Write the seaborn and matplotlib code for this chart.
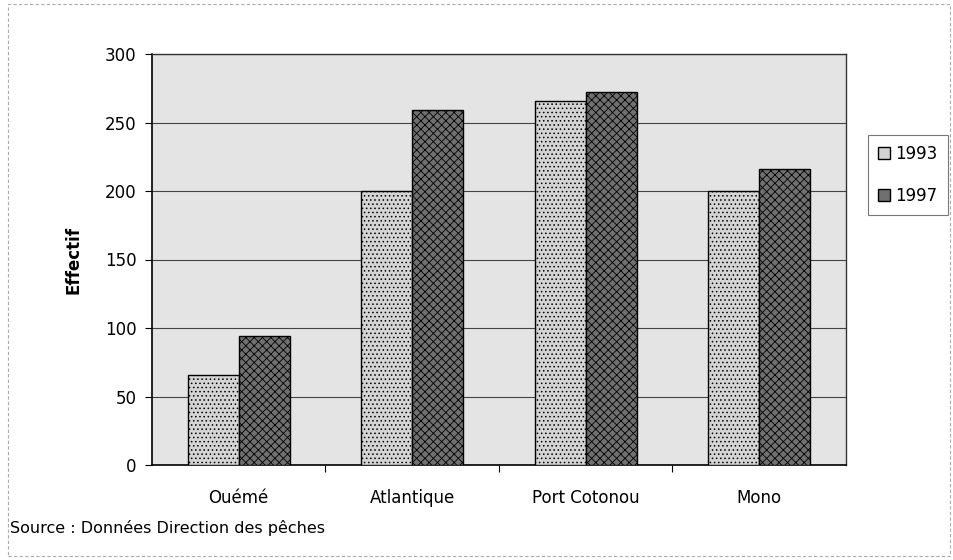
import matplotlib
matplotlib.use("Agg")
import matplotlib.pyplot as plt
import seaborn as sns
import pandas as pd
from matplotlib.patches import Rectangle

categories = ["Ouémé", "Atlantique", "Port Cotonou", "Mono"]
years = ["1993", "1997"]
values_1993 = [66, 200, 266, 200]
values_1997 = [94, 259, 272, 216]
y_ticks = [0, 50, 100, 150, 200, 250, 300]

df = pd.DataFrame({
    "Region": categories * 2,
    "Year": [years[0]] * 4 + [years[1]] * 4,
    "Effectif": values_1993 + values_1997,
})

sns.set_theme(style="white")
plt.rcParams["font.family"] = ["DejaVu Sans"]
plt.rcParams["hatch.linewidth"] = 0.6
plt.rcParams["text.color"] = "black"
plt.rcParams["xtick.color"] = "black"
plt.rcParams["ytick.color"] = "black"
plt.rcParams["axes.labelcolor"] = "black"

fig = plt.figure(figsize=(9.54, 5.6), dpi=100)
ax = fig.add_axes([152/954, 95/560, 694/954, 411/560])
ax.set_facecolor("#e4e4e4")

palette = {"1993": "#d4d4d4", "1997": "#707070"}
sns.barplot(data=df, x="Region", y="Effectif", hue="Year", palette=palette,
            order=categories, hue_order=years, width=0.59, ax=ax,
            edgecolor="black", linewidth=1.0, saturation=1, legend=True, zorder=3)

hatches = {"1993": "....", "1997": "xxxx"}
for cont, yr in zip(ax.containers, years):
    for b in cont:
        b.set_hatch(hatches[yr])
        b.set_zorder(3)

ax.set_ylim(0, 300)
ax.set_xlim(-0.5, 3.5)
ax.set_yticks(y_ticks)
ax.set_yticklabels([str(t) for t in y_ticks], fontsize=12)
ax.tick_params(axis="y", length=5, width=0.8, color="black", direction="out", pad=6, left=True)
ax.tick_params(axis="x", length=0, labelsize=12, pad=17)
ax.set_xticks(range(4))
ax.set_xticklabels(categories)
ax.set_xticks([0.5, 1.5, 2.5], minor=True)
ax.tick_params(axis="x", which="minor", length=5, width=0.8, color="black", bottom=True)
ax.yaxis.grid(True, color="#444444", linewidth=0.8, zorder=1)
ax.set_axisbelow(True)
for s in ["left", "bottom"]:
    ax.spines[s].set_color("black")
    ax.spines[s].set_linewidth(1.2)
for s in ["top", "right"]:
    ax.spines[s].set_color("#333333")
    ax.spines[s].set_linewidth(1.0)
ax.set_xlabel("")
ax.set_ylabel("Effectif", fontsize=12, fontweight="bold", labelpad=16)

leg = ax.legend(loc="upper left", bbox_to_anchor=(868/954, 1 - 135/560),
                bbox_transform=fig.transFigure, frameon=True, fontsize=12,
                handlelength=0.7, handleheight=0.7, handletextpad=0.35,
                borderpad=0.6, labelspacing=1.45, fancybox=False, borderaxespad=0)
leg.get_frame().set_edgecolor("#555555")
leg.get_frame().set_linewidth(0.8)

fig.text(10/954, 1 - 528/560, "Source : Données Direction des pêches", fontsize=11.5,
         va="center", ha="left")

fig.patches.append(Rectangle((8/954, 4/560), 942/954, 552/560, transform=fig.transFigure,
                             fill=False, edgecolor="#aaaaaa", linewidth=0.8,
                             linestyle=(0, (3, 2))))

fig.savefig("out.png", dpi=100)
